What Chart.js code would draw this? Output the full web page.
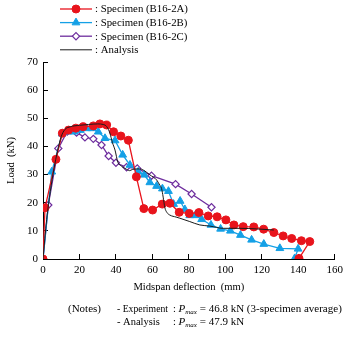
<!DOCTYPE html>
<html>
<head>
<meta charset="utf-8">
<script src="https://cdn.jsdelivr.net/npm/chart.js@4.4.1/dist/chart.umd.min.js"></script>
<style>
  html, body { margin: 0; padding: 0; background: #fff; }
  #wrap { width: 353px; height: 337px; }
</style>
</head>
<body>
<div id="wrap"><canvas id="c" width="353" height="337"></canvas></div>
<script>
// values: [deflection mm, load kN]
const specA = [[0,0],[1.1,18.2],[7.1,35.4],[10.6,44.7],[14,45.8],[18,46.5],[22,47],[27.6,47.3],[31.2,48],[34.9,47.6],
  [38.7,45.2],[42.7,43.7],[46.8,42.2],[51.2,29.2],[55.3,17.9],[60.1,17.4],[65.4,19.5],[69.6,19.8],[74.7,16.6],[80.2,16.2],
  [85.5,16.5],[90.6,15.3],[95.5,15],[100.3,13.9],[104.7,12.1],[109.8,11.5],[115.6,11.4],[121,10.6],[126.6,9.4],[131.7,8.2],
  [136.4,7.3],[141.7,6.5],[146.3,6.2],[140.4,0.2]];
const specB = [[0,0],[4.8,31],[10.5,44.5],[13.5,45.2],[17,45.2],[20.5,45.8],[24,46.4],[27,46.4],[30.3,45.2],[34,42.9],
  [39.5,42.1],[43.7,37],[47.7,33.4],[52.2,31],[55.5,29.9],[58.6,27.2],[62.3,25.9],[65.5,25],[68.8,24.1],[71.6,19.5],
  [75.2,20.6],[77.8,17.6],[80.5,15.5],[83.5,15.5],[87,14.1],[92.1,12.1],[97.4,10.7],[102.8,10],[108.3,8.5],[114.4,6.8],
  [121.1,5.3],[129.9,3.8],[139.9,3.6],[138,0.2]];
const specC = [[0,0],[2.9,19.2],[8.4,39.3],[13.3,45.3],[18.4,44.9],[23,43.2],[27.6,42.7],[32.1,40.5],[36,36.6],[40,34.2],
  [45.8,32.6],[51.7,32.2],[59.5,29.6],[72.7,26.6],[81.5,23.1],[92.4,18.4]];
const analysis = [[0,0],[2,14],[4,24],[6,32],[8,38.5],[10,43.5],[12,46],[15,47],[20,47.5],[25,47.8],[30,48],[33,47.8],
  [35,47],[36.7,44.7],[38,41.5],[39.5,38.7],[41,34.5],[43,33],[45,32.2],[47.5,31.4],[49,31.8],[51,32],[53,32],[55,31.6],
  [58.6,29.9],[62.3,28.1],[64,26.3],[65,25.1],[65.9,22],[66.8,18.3],[68,16.5],[69.6,15.6],[73,14.9],[75,14.5],[80.5,13.3],
  [86,12.1],[91.5,11.7],[98.8,10.9],[108,10.9],[117,10.7],[126.6,10.3]];
const seriesLabels = ['Specimen (B16-2A)', 'Specimen (B16-2B)', 'Specimen (B16-2C)', 'Analysis'];
const xTicks = { min: 0, max: 160, step: 20 };
const yTicks = { min: 0, max: 70, step: 10 };
const noteLines = [
  { head: '- Experiment', value: ' = 46.8 kN (3-specimen average)' },
  { head: '- Analysis', value: ' = 47.9 kN' }
];

const FONT = "'Liberation Serif', 'Times New Roman', serif";
const toXY = arr => arr.map(p => ({ x: p[0], y: p[1] }));

// legend + notes drawn on the canvas
const annot = {
  id: 'annot',
  afterDraw(chart) {
    const ctx = chart.ctx;
    ctx.save();
    ctx.font = '10.8px ' + FONT;
    ctx.textBaseline = 'middle';
    ctx.fillStyle = '#000';
    chart.data.datasets.forEach((ds, i) => {
      const y = 9 + i * 13.6;
      ctx.strokeStyle = ds.borderColor;
      ctx.lineWidth = ds.borderWidth;
      ctx.beginPath();
      ctx.moveTo(60, y);
      ctx.lineTo(92, y);
      ctx.stroke();
      if (ds.pointRadius > 0) {
        ctx.fillStyle = ds.pointBackgroundColor;
        ctx.strokeStyle = ds.pointBorderColor;
        ctx.lineWidth = ds.pointBorderWidth;
        Chart.helpers.drawPoint(ctx, { pointStyle: ds.pointStyle, radius: ds.pointRadius, borderWidth: ds.pointBorderWidth, rotation: 0 }, 76, y);
      }
      ctx.fillStyle = '#000';
      ctx.fillText(': ' + ds.label, 95, y + 0.5);
    });

    // notes
    ctx.font = '11px ' + FONT;
    ctx.fillText('(Notes)', 68, 309);
    noteLines.forEach((n, i) => {
      const y = 309 + i * 13;
      ctx.font = '10.5px ' + FONT;
      const headW = ctx.measureText(n.head).width;
      ctx.fillText(n.head, 117, y, Math.min(headW, 51));
      let x = 173;
      ctx.fillText(':', x, y);
      x += ctx.measureText(': ').width;
      ctx.font = 'italic 11px ' + FONT;
      ctx.fillText('P', x, y);
      x += ctx.measureText('P').width;
      ctx.font = 'italic 7px ' + FONT;
      ctx.fillText('max', x, y + 3);
      x += ctx.measureText('max').width;
      ctx.font = '11px ' + FONT;
      ctx.fillText(n.value, x, y);
    });
    ctx.restore();
  }
};

new Chart(document.getElementById('c').getContext('2d'), {
  type: 'scatter',
  data: {
    datasets: [
      {
        label: seriesLabels[0], data: toXY(specA), showLine: true, order: 1,
        borderColor: '#e8141c', borderWidth: 1.3,
        pointStyle: 'circle', pointRadius: 4, pointBackgroundColor: '#e8141c', pointBorderColor: '#e8141c', pointBorderWidth: 1
      },
      {
        label: seriesLabels[1], data: toXY(specB), showLine: true, order: 2,
        borderColor: '#14a0e6', borderWidth: 1.3,
        pointStyle: 'triangle', pointRadius: 4.5, pointBackgroundColor: '#14a0e6', pointBorderColor: '#14a0e6', pointBorderWidth: 1
      },
      {
        label: seriesLabels[2], data: toXY(specC), showLine: true, order: 3,
        borderColor: '#6e2d9e', borderWidth: 1.3,
        pointStyle: 'rectRot', pointRadius: 3.6, pointBackgroundColor: '#fff', pointBorderColor: '#6e2d9e', pointBorderWidth: 1.2
      },
      {
        label: seriesLabels[3], data: toXY(analysis), showLine: true, order: 0,
        borderColor: '#1a1a1a', borderWidth: 1, tension: 0.3, cubicInterpolationMode: 'monotone',
        pointRadius: 0
      }
    ]
  },
  options: {
    responsive: false,
    animation: false,
    events: [],
    layout: { padding: { left: 0, top: 62, right: 18, bottom: 0 } },
    plugins: { legend: { display: false }, tooltip: { enabled: false } },
    scales: {
      x: {
        type: 'linear', min: xTicks.min, max: xTicks.max,
        ticks: { stepSize: xTicks.step, color: '#000', padding: 10, maxRotation: 0, font: { family: FONT, size: 11 } },
        grid: { drawOnChartArea: false, tickLength: -5, color: '#000' },
        border: { color: '#000', width: 1 },
        title: { display: true, text: 'Midspan deflection  (mm)', color: '#000', font: { family: FONT, size: 10.6 }, padding: { top: 0, bottom: 43 } },
        afterFit: s => { s.height = 78; }
      },
      y: {
        type: 'linear', min: yTicks.min, max: yTicks.max,
        ticks: { stepSize: yTicks.step, color: '#000', padding: 10, font: { family: FONT, size: 11 } },
        grid: { drawOnChartArea: false, tickLength: -5, color: '#000' },
        border: { color: '#000', width: 1 },
        title: { display: true, text: 'Load  (kN)', color: '#000', font: { family: FONT, size: 10.6 }, padding: { top: 5, bottom: 0 } },
        afterFit: s => { s.width = 43; }
      }
    }
  },
  plugins: [annot]
});
</script>
</body>
</html>
